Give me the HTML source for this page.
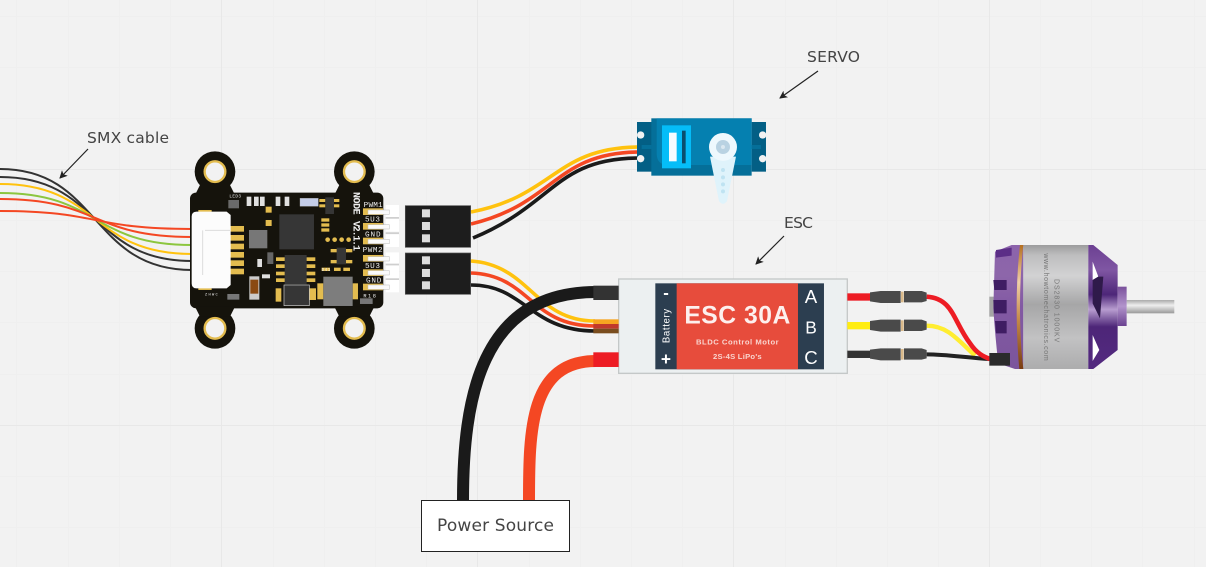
<!DOCTYPE html>
<html><head><meta charset="utf-8"><style>
html,body{margin:0;padding:0;background:#f2f2f2;width:1206px;height:567px;overflow:hidden}
svg{display:block}
text{font-family:"Liberation Sans",sans-serif}
</style></head><body>
<svg width="1206" height="567" viewBox="0 0 1206 567" xmlns="http://www.w3.org/2000/svg">
<defs>
<linearGradient id="can" x1="0" y1="0" x2="0" y2="1"><stop offset="0" stop-color="#9c9c9d"/><stop offset=".08" stop-color="#bdbdbe"/><stop offset=".25" stop-color="#d2d2d3"/><stop offset=".48" stop-color="#a6a6a7"/><stop offset=".75" stop-color="#c2c2c3"/><stop offset="1" stop-color="#acacad"/></linearGradient>
<linearGradient id="shaft" x1="0" y1="0" x2="0" y2="1"><stop offset="0" stop-color="#aaa"/><stop offset=".4" stop-color="#eee"/><stop offset="1" stop-color="#999"/></linearGradient>
<linearGradient id="band" x1="0" y1="0" x2="0" y2="1"><stop offset="0" stop-color="#b5701f"/><stop offset=".3" stop-color="#f0d0a8"/><stop offset=".6" stop-color="#c48a4a"/><stop offset="1" stop-color="#7a3c10"/></linearGradient>
<linearGradient id="pur" x1="0" y1="0" x2="0" y2="1"><stop offset="0" stop-color="#8c63ab"/><stop offset=".25" stop-color="#8d66aa"/><stop offset=".5" stop-color="#8259a3"/><stop offset="1" stop-color="#7b559c"/></linearGradient>
<linearGradient id="pur2" x1="0" y1="0" x2="0" y2="1"><stop offset="0" stop-color="#6c4092"/><stop offset=".2" stop-color="#7f56a3"/><stop offset=".4" stop-color="#4d2678"/><stop offset=".52" stop-color="#b89dd0"/><stop offset=".66" stop-color="#4d2678"/><stop offset="1" stop-color="#53297f"/></linearGradient>
<linearGradient id="pur3" x1="0" y1="0" x2="0" y2="1"><stop offset="0" stop-color="#7a519c"/><stop offset=".5" stop-color="#b294cc"/><stop offset="1" stop-color="#6a4190"/></linearGradient>
<marker id="ah" markerWidth="8" markerHeight="8" refX="7" refY="4" orient="auto" markerUnits="userSpaceOnUse"><path d="M0 0L8 4L0 8L2 4Z" fill="#222"/></marker>
</defs>
<rect width="1206" height="567" fill="#f2f2f2"/>
<g stroke="#efefef" stroke-width="1">
<path d="M16.500 0V567M68.500 0V567M119.500 0V567M170.500 0V567M273.500 0V567M324.500 0V567M375.500 0V567M426.500 0V567M529.500 0V567M580.500 0V567M631.500 0V567M682.500 0V567M785.500 0V567M836.500 0V567M887.500 0V567M938.500 0V567M1040.500 0V567M1091.500 0V567M1142.500 0V567M1194.500 0V567"/>
<path d="M0 16.500H1206M0 67.500H1206M0 118.500H1206M0 220.500H1206M0 271.500H1206M0 322.500H1206M0 374.500H1206M0 476.500H1206M0 527.500H1206"/>
</g>
<g stroke="#e8e8e8" stroke-width="1">
<path d="M221.500 0V567M477.500 0V567M733.500 0V567M989.500 0V567M0 169.500H1206M0 425.500H1206"/>
</g>

<!-- SMX cable -->
<g fill="none" stroke-width="2">
<path d="M0 169C100 169 90 270 192 270" stroke="#333"/>
<path d="M0 177C100 177 90 261 192 261" stroke="#333"/>
<path d="M0 184C100 184 90 254 192 254" stroke="#ffc20e"/>
<path d="M0 193C100 193 90 245 192 245" stroke="#8cc63f"/>
<path d="M0 199C100 199 90 237 192 237" stroke="#f44723"/>
<path d="M0 211C100 211 90 229 192 229" stroke="#f44723"/>
</g>

<!-- Wires to servo -->
<g fill="none" stroke-linecap="butt" stroke-width="3.600">
<path d="M471 212C555 196 555 147 640 147" stroke="#ffc20e"/>
<path d="M471 224C555 204 555 152 640 152" stroke="#f44723"/>
<path d="M473 238C555 204 555 158 640 158" stroke="#1a1a1a"/>
<path d="M471 261C530 265 535 321 595 321" stroke="#ffc20e"/>
<path d="M471 273C530 275 530 326 595 326" stroke="#f44723"/>
<path d="M471 285C525 285 530 331 595 331" stroke="#1a1a1a"/>
</g>
<!-- Power wires -->
<path d="M463 501C463 400 480 292 596 292" fill="none" stroke="#1a1a1a" stroke-width="12"/>
<path d="M529 501C529 430 530 361 596 361" fill="none" stroke="#f44723" stroke-width="12"/>

<!-- PCB -->
<g transform="translate(180 145) scale(.3333)">
<circle cx="105" cy="80" r="61" fill="#15130c"/><circle cx="523" cy="80" r="61" fill="#15130c"/>
<circle cx="105" cy="550" r="61" fill="#15130c"/><circle cx="523" cy="550" r="61" fill="#15130c"/>
<rect x="30" y="143" width="580" height="347" rx="18" fill="#15130c"/>
<path d="M60 120H150L165 150H45Z M478 120H568L583 150H463Z" fill="#15130c"/>
<path d="M45 485H165L150 515H60Z M463 485H583L568 515H478Z" fill="#15130c"/>
<g fill="#f2f2f2" stroke="#e3bc4f" stroke-width="7">
<circle cx="105" cy="80" r="31"/><circle cx="523" cy="80" r="31"/><circle cx="105" cy="550" r="31"/><circle cx="523" cy="550" r="31"/>
</g>
<!-- gold pads -->
<g fill="#e3bc4f">
<rect x="150" y="243" width="42" height="17"/><rect x="150" y="270" width="42" height="17"/><rect x="150" y="296" width="42" height="17"/><rect x="150" y="321" width="42" height="17"/><rect x="150" y="346" width="42" height="17"/><rect x="150" y="371" width="42" height="17"/>
<rect x="55" y="195" width="40" height="12"/><rect x="55" y="425" width="40" height="10"/>
<rect x="549" y="190" width="60" height="20"/><rect x="549" y="234" width="60" height="20"/><rect x="549" y="278" width="60" height="20"/><rect x="549" y="330" width="60" height="20"/><rect x="549" y="373" width="60" height="20"/><rect x="549" y="416" width="60" height="20"/>
<rect x="412" y="415" width="18" height="48"/><rect x="518" y="415" width="16" height="48"/>
<rect x="257" y="185" width="18" height="18"/><rect x="257" y="225" width="18" height="18"/>
<rect x="288" y="337" width="28" height="11"/><rect x="288" y="358" width="28" height="11"/><rect x="288" y="380" width="28" height="11"/><rect x="288" y="400" width="28" height="11"/>
<rect x="378" y="337" width="28" height="11"/><rect x="378" y="358" width="28" height="11"/><rect x="378" y="380" width="28" height="11"/><rect x="378" y="400" width="28" height="11"/>
<rect x="418" y="162" width="18" height="9"/><rect x="418" y="178" width="18" height="9"/><rect x="460" y="162" width="18" height="9"/><rect x="460" y="178" width="18" height="9"/>
<rect x="424" y="220" width="24" height="10"/><rect x="424" y="235" width="24" height="10"/><rect x="424" y="250" width="24" height="10"/>
<rect x="287" y="430" width="17" height="40"/><rect x="388" y="430" width="20" height="35"/>
<circle cx="443" cy="284" r="7"/><circle cx="464" cy="284" r="7"/><circle cx="485" cy="284" r="7"/><circle cx="506" cy="284" r="7"/>
<rect x="452" y="312" width="20" height="10"/><rect x="452" y="345" width="20" height="10"/><rect x="497" y="312" width="20" height="10"/><rect x="497" y="345" width="20" height="10"/>
<rect x="425" y="368" width="25" height="10"/><rect x="462" y="368" width="20" height="10"/><rect x="490" y="368" width="20" height="10"/>
</g>
<g fill="#e0e0e0">
<rect x="200" y="155" width="14" height="28"/><rect x="222" y="155" width="14" height="28"/><rect x="240" y="155" width="14" height="28"/><rect x="287" y="155" width="14" height="28"/><rect x="314" y="155" width="14" height="28"/>
<rect x="232" y="342" width="14" height="24"/><rect x="246" y="388" width="24" height="12"/>
</g>
<!-- chips -->
<rect x="298" y="208" width="104" height="105" fill="#363636"/>
<rect x="207" y="255" width="55" height="55" fill="#777"/>
<rect x="314" y="330" width="66" height="88" fill="#363636"/>
<rect x="312" y="420" width="76" height="62" fill="#363636" stroke="#ccc" stroke-width="2"/>
<rect x="430" y="395" width="88" height="88" fill="#7d7d7d"/>
<rect x="436" y="157" width="26" height="50" fill="#363636"/>
<rect x="470" y="308" width="28" height="50" fill="#363636"/>
<rect x="145" y="165" width="32" height="25" fill="#6a6a6a"/>
<rect x="262" y="322" width="18" height="35" fill="#666"/>
<rect x="360" y="160" width="55" height="24" fill="#c4cde8" stroke="#aaa"/>
<rect x="208" y="394" width="30" height="70" fill="#ccc"/><rect x="211" y="404" width="24" height="42" fill="#8a4a12"/>
<rect x="142" y="447" width="36" height="17" fill="#777"/>
<rect x="540" y="460" width="38" height="17" fill="#777"/>
<!-- silk -->
<g fill="#eee" font-weight="bold">
<text transform="translate(520 141) rotate(90)" style="font-family:'Liberation Mono'" font-size="30" textLength="68">NODE</text>
<text transform="translate(520 228) rotate(90)" style="font-family:'Liberation Mono'" font-size="30" textLength="90">V2.1.1</text>
</g>
<g fill="#eee" font-size="23">
<text x="551" y="186" style="font-family:'Liberation Mono'" textLength="57">PWM1</text><text x="555" y="230" style="font-family:'Liberation Mono'" textLength="45">5U3</text><text x="555" y="274" style="font-family:'Liberation Mono'" textLength="47">GND</text>
<text x="548" y="321" style="font-family:'Liberation Mono'" textLength="60">PWM2</text><text x="555" y="369" style="font-family:'Liberation Mono'" textLength="45">5U3</text><text x="558" y="412" style="font-family:'Liberation Mono'" textLength="46">GND</text>
<text x="550" y="458" style="font-family:'Liberation Mono'" font-size="16" textLength="38">R18</text>
<text x="148" y="158" style="font-family:'Liberation Mono'" font-size="13" textLength="35">LED3</text>
<text x="75" y="452" style="font-family:'Liberation Mono'" font-size="11" textLength="38">ZHWC</text>
<text x="425" y="378" style="font-family:'Liberation Mono'" font-size="13" textLength="26">D41</text>
</g>
<!-- JST socket -->
<path d="M35 215Q35 200 50 200H140L152 210V420L140 430H50Q35 430 35 415Z" fill="#fcfcfc"/>
<path d="M68 270V390M75 256H150M68 256V270" fill="none" stroke="#dcdcdc" stroke-width="3"/>
<!-- Connector body on right -->
<g fill="#ffffff">
<rect x="617" y="180" width="40" height="40"/><rect x="617" y="222" width="40" height="38"/><rect x="617" y="268" width="40" height="38"/>
<rect x="617" y="322" width="40" height="38"/><rect x="617" y="362" width="40" height="38"/><rect x="617" y="404" width="40" height="38"/>
</g>
<g fill="#cfcfcf">
<rect x="617" y="216" width="40" height="5"/><rect x="617" y="262" width="40" height="5"/><rect x="617" y="356" width="40" height="5"/><rect x="617" y="400" width="40" height="5"/>
</g>
<g fill="#fafafa" stroke="#bbb" stroke-width="1.500">
<rect x="564" y="195" width="64" height="13"/><rect x="564" y="239" width="64" height="13"/><rect x="564" y="283" width="64" height="13"/>
<rect x="564" y="335" width="64" height="13"/><rect x="564" y="377" width="64" height="13"/><rect x="564" y="420" width="64" height="13"/>
</g>
<!-- Dupont headers -->
<g fill="#1d1d1d" stroke="#555" stroke-width="2">
<rect x="676" y="182" width="196" height="125"/><rect x="676" y="324" width="196" height="124"/>
</g>
<g fill="#ddd">
<rect x="726" y="193" width="24" height="24"/><rect x="726" y="231" width="24" height="24"/><rect x="726" y="268" width="24" height="24"/>
<rect x="726" y="334" width="24" height="24"/><rect x="726" y="372" width="24" height="24"/><rect x="726" y="409" width="24" height="24"/>
</g>
</g>

<!-- Servo -->
<g transform="translate(600 100) scale(.3333)">
<rect x="111" y="66" width="44" height="149" fill="#035f85"/><rect x="455" y="66" width="43" height="149" fill="#035f85"/>
<rect x="125" y="135" width="30" height="12" fill="#056f99"/><rect x="455" y="135" width="28" height="12" fill="#056f99"/>
<rect x="154" y="55" width="301" height="172" fill="#056f99"/>
<path d="M170 55H455V195H205Q170 195 170 160Z" fill="#0580b0"/>
<g fill="#f2f2f2"><circle cx="122" cy="105" r="11"/><circle cx="122" cy="176" r="11"/><circle cx="488" cy="105" r="11"/><circle cx="488" cy="176" r="11"/></g>
<rect x="186" y="76" width="87" height="129" fill="#05bdf8"/>
<rect x="207" y="98" width="23" height="86" fill="#f4fbff"/>
<rect x="246" y="92" width="11" height="98" fill="#0a4f6e"/>
<path d="M330 170L357 303Q369 320 381 303L408 170Z" fill="#dff3fb"/>
<circle cx="369" cy="141" r="42" fill="#eef8fd"/>
<circle cx="369" cy="141" r="21" fill="#b9d2e2"/><circle cx="369" cy="141" r="6" fill="#dbe8f0"/>
<g fill="#bfe3f2"><circle cx="369" cy="210" r="6"/><circle cx="369" cy="232" r="6"/><circle cx="369" cy="253" r="6"/><circle cx="369" cy="274" r="6"/></g>
</g>

<!-- ESC -->
<g transform="translate(580 265) scale(.3333)">
<rect x="116" y="42" width="686" height="283" fill="#ecf0f1" stroke="#c4c8c8" stroke-width="4"/>
<rect x="40" y="62" width="76" height="43" fill="#333"/>
<rect x="40" y="163" width="76" height="14" fill="#f7a521"/><rect x="40" y="177" width="76" height="14" fill="#c0392b"/><rect x="40" y="191" width="76" height="14" fill="#7a4d1e"/>
<rect x="40" y="262" width="76" height="44" fill="#ed1c24"/>
<rect x="226" y="55" width="506" height="258" fill="#2c3e50"/>
<rect x="290" y="55" width="364" height="258" fill="#e74c3c"/>
<g fill="#fff" text-anchor="middle">
<text x="472" y="175" font-size="74" font-weight="bold" textLength="318" fill="#fdf0ee">ESC 30A</text>
<text x="472" y="239" font-size="23" font-weight="bold" textLength="248" fill="#f9d5cf">BLDC Control Motor</text>
<text x="472" y="282" font-size="23" font-weight="bold" textLength="146" fill="#f9d5cf">2S-4S LiPo's</text>
<text x="693" y="114" font-size="56">A</text>
<text x="693" y="205" font-size="52">B</text>
<text x="693" y="297" font-size="56">C</text>
<text x="258" y="100" font-size="50" font-weight="bold">-</text>
<text x="258" y="300" font-size="52" font-weight="bold">+</text>
<text transform="translate(268 183) rotate(-90)" font-size="29" textLength="103">Battery</text>
</g>
</g>

<!-- Motor leads -->
<g transform="translate(840 235) scale(.3333)">
<rect x="22" y="175" width="70" height="22" fill="#ed1c24"/>
<rect x="22" y="261" width="70" height="22" fill="#ffed10"/>
<rect x="22" y="347" width="70" height="22" fill="#333"/>
<path d="M260 272C320 272 350 310 405 362" fill="none" stroke="#ffed30" stroke-width="13"/>
<path d="M260 358C320 358 380 368 450 372" fill="none" stroke="#222" stroke-width="12"/>
<path d="M260 185C340 190 340 260 390 325C410 355 430 365 450 372" fill="none" stroke="#ed1c24" stroke-width="14"/>
<g fill="#4a4a4a">
<path d="M90 172L122 168H182V204H122L90 199Z"/><path d="M192 168H245L260 173V198L245 202H192Z"/>
<path d="M90 258L122 254H182V290H122L90 285Z"/><path d="M192 254H245L260 259V284L245 288H192Z"/>
<path d="M90 344L122 340H182V376H122L90 371Z"/><path d="M192 340H245L260 345V370L245 374H192Z"/>
</g>
<g fill="#d9b98a"><rect x="183" y="170" width="8" height="32"/><rect x="183" y="256" width="8" height="32"/><rect x="183" y="342" width="8" height="32"/></g>
<!-- Motor body -->
<rect x="860" y="195" width="143" height="40" fill="url(#shaft)"/>
<rect x="448" y="185" width="20" height="60" fill="#a5a5a5"/>
<path d="M465 50L515 30H550V402H525L475 385Q465 300 460 220Z" fill="url(#pur)"/>
<path d="M468 45L515 38V62L468 68Z" fill="#5c2e87"/>
<path d="M460 135H500V165H463Z M460 195H500V235H462Z M465 258H500V295H468Z" fill="#3f1d63"/>
<rect x="550" y="30" width="195" height="372" fill="url(#can)"/>
<path d="M540 30H550Q540 120 540 215Q540 320 550 402H538Q530 320 530 215Q530 120 540 30Z" fill="url(#band)"/>
<path d="M745 30H760L833 90V345L760 402H745Z" fill="url(#pur2)"/>
<path d="M758 80L775 125L758 135Z M758 300L778 345L758 378Z" fill="#fff"/>
<path d="M758 135L775 125L790 125L780 250L758 205Z" fill="#2f1a4a"/>
<rect x="833" y="155" width="27" height="118" fill="url(#pur3)"/>
<g fill="#777" font-size="21">
<text transform="translate(644 132) rotate(90)" textLength="190">DS2830 1000KV</text>
<text transform="translate(612 55) rotate(90)" textLength="322">www.howtomechatronics.com</text>
</g>
<rect x="448" y="354" width="62" height="38" fill="#2b2b2b"/>
</g>

<!-- Labels & arrows -->
<g fill="#444" font-size="15.500">
<text x="87" y="143" style="font-family:'DejaVu Sans'" textLength="82">SMX cable</text>
<text x="807" y="62" style="font-family:'DejaVu Sans'" textLength="53">SERVO</text>
<text x="784" y="228" style="font-family:'DejaVu Sans'" textLength="29">ESC</text>
</g>
<g stroke="#222" stroke-width="1.200" fill="none">
<line x1="88" y1="149" x2="60" y2="178" marker-end="url(#ah)"/>
<line x1="818" y1="71" x2="780" y2="98" marker-end="url(#ah)"/>
<line x1="784" y1="236" x2="756" y2="264" marker-end="url(#ah)"/>
</g>
<rect x="421.500" y="500.500" width="148" height="51" fill="#fff" stroke="#222" stroke-width="1"/>
<text x="437" y="531" font-size="17" fill="#444" style="font-family:'DejaVu Sans'" textLength="117">Power Source</text>
</svg>
</body></html>
